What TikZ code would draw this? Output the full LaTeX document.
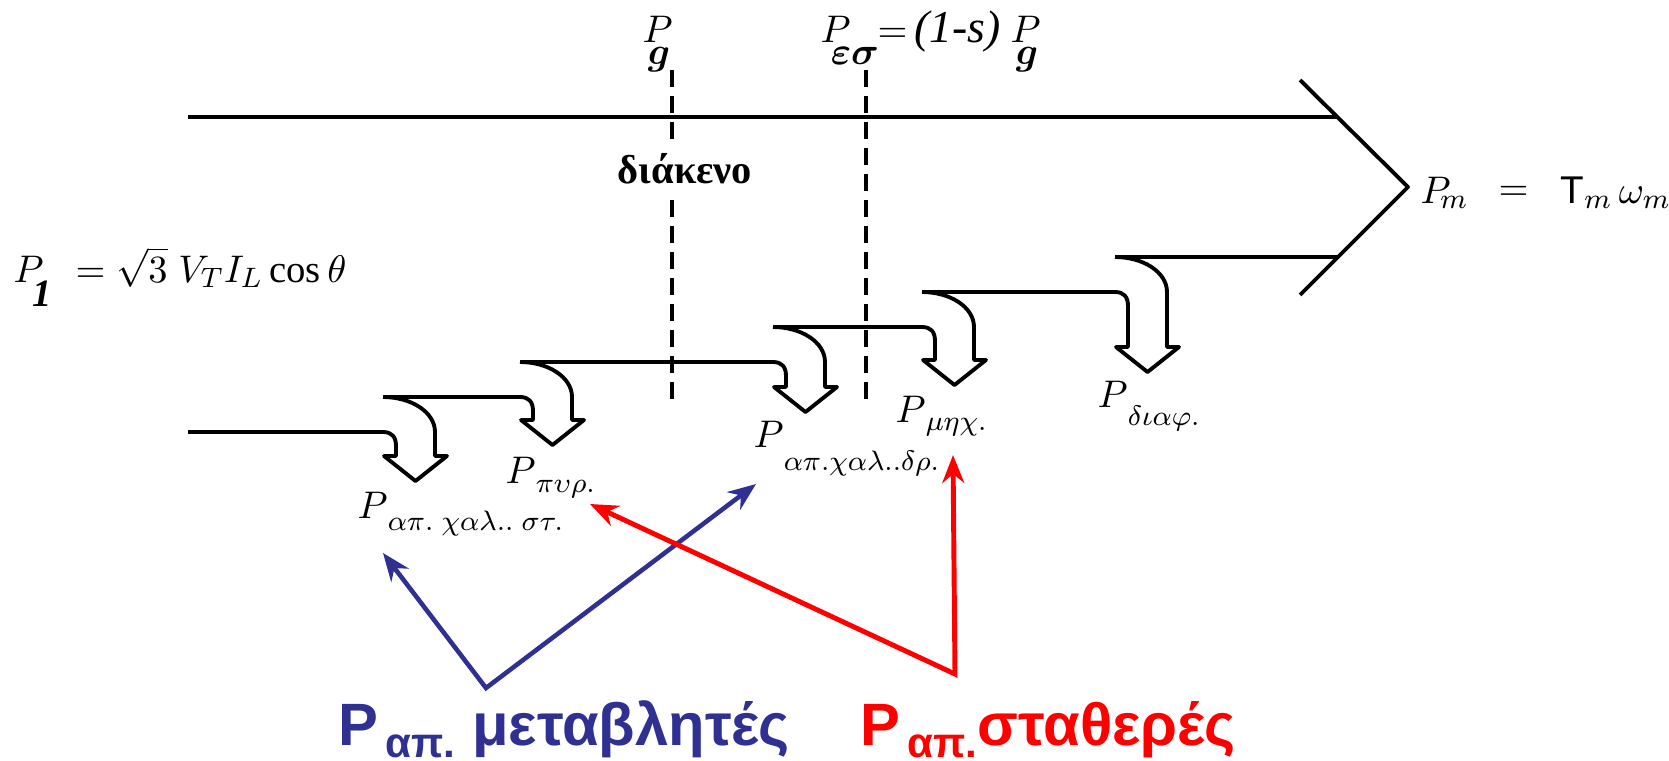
\documentclass[tikz,border=0pt]{standalone}
\usepackage{amsmath}
\usepackage{fontspec}
\setmainfont{Liberation Serif}
\newfontfamily\grsans{Liberation Sans}
\usetikzlibrary{arrows.meta}
\definecolor{varblue}{RGB}{46,49,146}
\definecolor{fixred}{RGB}{255,0,0}
\newcommand{\Psub}[2]{$P$\raisebox{-#1}{\fontsize{8}{9}\selectfont$#2$}}

\begin{document}
\begin{tikzpicture}[x=0.1mm, y=-0.1mm,
  band/.style={line width=1.1pt, line join=round},
  airgap/.style={line width=0.9pt, dash pattern=on 1.7mm off 0.9mm},
  lbl/.style={inner sep=0pt, anchor=base west, font=\fontsize{11}{13}\selectfont},
  toplbl/.style={lbl, font=\fontsize{11}{13}\selectfont},
  biglbl/.style={inner sep=0pt, anchor=base west, font=\grsans\bfseries\fontsize{17}{20}\selectfont},
  varline/.style={draw=varblue, line width=1.3pt, >={Stealth[length=2.8mm,width=2.2mm]}, <->},
  fixline/.style={draw=fixred, line width=1.4pt, >={Stealth[length=2.8mm,width=2.2mm]}, <->}]
\useasboundingbox (0,0) rectangle (1669,761);

% main band and output arrow
\draw[band] (188,117) -- (1337,117);
\draw[band] (1300,80) -- (1408,187) -- (1300,295);
\draw[band] (188,432) -- (383,432);
\draw[band] (383,397) -- (520,397);
\draw[band] (520,362) -- (773,362);
\draw[band] (773,327) -- (922,327);
\draw[band] (922,292) -- (1115,292);
\draw[band] (1115,257) -- (1337,257);

% loss arrows
\foreach \X/\Y/\H in {383/432/456, 520/397/420, 773/362/387, 922/327/360, 1115/292/347}
  \draw[band] (\X,\Y) .. controls (\X+9,\Y) and (\X+13,\Y+5) .. (\X+13,\Y+14)
    -- (\X+13,\H) -- (\X+1,\H) -- (\X+32.5,\H+25) -- (\X+64,\H) -- (\X+52,\H)
    -- (\X+52,\Y) .. controls (\X+52,\Y-20) and (\X+28,\Y-35) .. (\X,\Y-35);

% air gap and shaft lines
\draw[airgap] (672,70) -- (672,403);
\draw[airgap] (866,70) -- (866,403);
\node[fill=white, inner xsep=2pt, inner ysep=4pt, anchor=base,
  font=\bfseries\fontsize{11.5}{13}\selectfont] (gap) at (685,183) {διάκενο};

% labels at the top
\node[toplbl] (pg) at (642,42) {$P$\kern-2.5mm\raisebox{-2.2mm}{$\boldsymbol{g}$}};
\node[toplbl] (pes) at (820,42) {$P$\kern-2mm\raisebox{-2.2mm}{$\boldsymbol{\varepsilon\sigma}$}};
\node[toplbl] (peq) at (877,42) {$=$\,{\fontsize{13}{15}\selectfont\textit{(1-s)}}};
\node[toplbl] (pg2) at (1010,42) {$P$\kern-2.5mm\raisebox{-2.2mm}{$\boldsymbol{g}$}};

% input power
\node[lbl] (p1) at (13,282) {$P$\kern-1.1mm\raisebox{-2.4mm}{\bfseries\itshape 1}};
\node[lbl] (p1eq) at (75,282) {$=\sqrt{3}\;V_T I_L\cos\theta$};

% output power
\node[toplbl] (pm) at (1420,203) {$P_{\!m}$};
\node[toplbl] (pmeq) at (1498,200) {$=$};
\node[toplbl] (tm) at (1560,203) {{\grsans T}$_m$\,$\omega_m$};

% losses
\node[lbl] (lst) at (357,518) {\Psub{1.2mm}{\alpha\pi.\;\chi\alpha\lambda..\;\sigma\tau.}};
\node[lbl] (lpy) at (505,483) {\Psub{0.9mm}{\pi\upsilon\rho.}};
\node[lbl] (ldr) at (753,447) {\Psub{2.3mm}{\alpha\pi.\chi\alpha\lambda..\delta\rho.}};
\node[lbl] (lme) at (895,422) {\Psub{0.8mm}{\mu\eta\chi.}};
\node[lbl] (ldi) at (1097,407) {\Psub{1.8mm}{\delta\iota\alpha\varphi.}};

% variable and fixed losses
\node[biglbl, text=varblue] (var) at (338,745)
  {P\kern2pt\raisebox{-1.2mm}{\fontsize{12}{14}\selectfont απ.} μεταβλητές};
\node[biglbl, text=fixred] (fix) at (860,745)
  {P\kern2pt\raisebox{-1.2mm}{\fontsize{12}{14}\selectfont απ.}σταθερές};
\coordinate (bv) at (486,688);
\coordinate (bt1) at (383,553);
\coordinate (bt2) at (756,484);
\coordinate (rv) at (955,674);
\coordinate (rt1) at (590,504);
\coordinate (rt2) at (953,455);
\draw[varline] (bt1) -- (bv) -- (bt2);
\draw[fixline] (rt1) -- (rv) -- (rt2);
\end{tikzpicture}
\end{document}
